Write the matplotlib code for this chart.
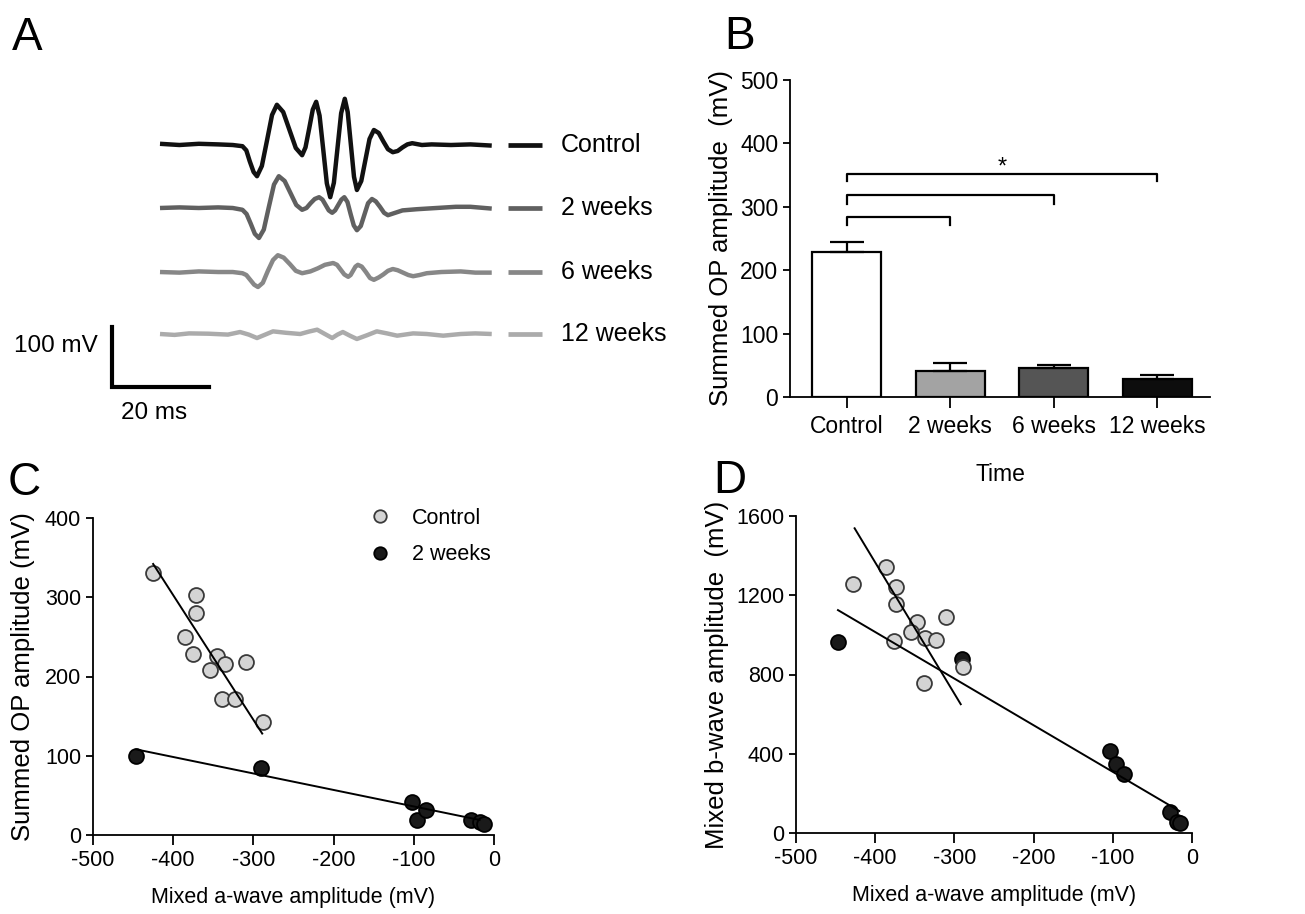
import matplotlib
matplotlib.use('Agg')
import matplotlib.pyplot as plt
from matplotlib.lines import Line2D
import numpy as np

plt.rcParams['font.family'] = ['Liberation Sans', 'DejaVu Sans']
plt.rcParams['axes.unicode_minus'] = False

W, H = 1305, 914

# --- Panel A : OP traces (time in ms, amplitude in mV) ---
trace_names = ['Control', '2 weeks', '6 weeks', '12 weeks']
trace_colors = ['#111111', '#606060', '#878787', '#ababab']

ctrl_t = [0, 4, 8, 12, 15, 17, 17.8, 18.5, 19.3, 20, 21, 22.05, 23.1, 24.1, 25.4, 26.7, 28, 29.3,
          30, 30.75, 31.5, 32.2, 32.9, 33.65, 34.4, 35.1, 35.85, 36.6, 37.35, 38.1, 38.7, 39.35,
          40, 40.6, 41.5, 42.35, 43.2, 44.1, 45.1, 46.05, 47, 48, 49, 50, 51, 52, 54, 56, 60,
          64, 68.4]
ctrl_v = [2, 0, 2, 1, 0, -2, -9, -27, -45, -52, -35, 7, 50, 67, 55, 25, -5, -17,
          -4, 27, 59, 72, 49, -7, -64, -87, -63, -5, 53, 77, 55, 1,
          -53, -75, -60, -25, 10, 25, 20, 6, -7, -12, -10, -4, 1, 3, 0, 1, 0,
          1, -1]

wk2_t = [0, 4, 8, 12, 15, 17, 17.85, 18.7, 19.55, 20.4, 21.4, 22.45, 23.5, 24.5, 25.7, 26.9, 28.1,
         29.3, 30.2, 31.05, 31.9, 32.8, 33.5, 34.15, 34.8, 35.5, 36.1, 36.75, 37.4, 38, 38.65, 39.3,
         39.95, 40.6, 41.4, 42.15, 42.9, 43.7, 44.5, 45.35, 46.2, 47, 48.5, 50, 53, 57, 61, 64, 68.4]
wk2_v = [0, 1, 0, 1, 0, -3, -10, -26, -43, -50, -36, 2, 39, 53, 45, 25, 5,
         -3, 0, 8, 15, 18, 14, 5, -4, -8, -4, 5, 14, 18, 10, -10,
         -29, -37, -30, -11, 8, 15, 11, 2, -8, -12, -8, -4, -2, 0, 2, 2, -1]

wk6_t = [0, 4, 8, 12, 15, 17, 17.8, 18.6, 19.4, 20.2, 21.2, 22.25, 23.3, 24.3, 25.5, 26.8, 28,
         29.3, 31, 32.5, 34, 35.7, 36.5, 37.25, 38, 38.8, 39.3, 39.8, 40.3, 40.8, 41.6, 42.45, 43.3,
         44.1, 45.1, 46.05, 47, 48, 49, 50.1, 51.2, 52.2, 53.5, 55, 58, 62, 65, 68.4]
wk6_v = [0, -1, 1, 0, 0, -2, -5, -13, -21, -25, -18, 2, 20, 28, 24, 13, 2,
         -2, 1, 6, 12, 15, 12, 4, -4, -8, -5, 2, 9, 12, 9, 0, -10,
         -13, -9, -4, 2, 5, 3, -1, -5, -7, -5, -2, 0, 1, -1, -1]

wk12_t = [0, 3, 6, 10, 14, 16.5, 18.3, 20, 21.7, 23.3, 26, 28.9, 30.7, 32.4, 34, 35.5, 36.6, 37.7,
          39.2, 40.6, 42.7, 44.7, 46.8, 48.9, 52.2, 55, 58.4, 62, 65, 68.4]
wk12_v = [0, -1.5, 1, 0.5, -1, 3.3, -1, -6.7, -1, 4.4, 2, 0, 4, 7.2, 0, -6.7, -1, 3.3,
          -3, -8.3, -2, 4.4, 1, -2.8, 1, 0, -2.8, 0, 1, 0]

# --- Panel B : summed OP amplitude ---
groups = ['Control', '2 weeks', '6 weeks', '12 weeks']
op_mean = [229, 41, 45, 29]
op_err = [16, 12, 6, 6]
bar_colors = ['white', '#a3a3a3', '#555555', '#0d0d0d']

# --- Panel C / D : scatter vs mixed a-wave ---
ctrl_a = [-425, -372, -372, -385, -375, -346, -354, -336, -309, -339, -323, -288]
ctrl_op = [330, 303, 280, 250, 228, 226, 208, 216, 218, 172, 172, 142]
wk2_a = [-447, -290, -102, -96, -85, -29, -18, -13]
wk2_op = [100, 85, 42, 19, 32, 19, 17, 14]
ctrl_fit_c_x = [-425, -289]
ctrl_fit_c_y = [342, 128]
wk2_fit_c_x = [-446, -18]
wk2_fit_c_y = [108, 19]

ctrl_a_d = [-428, -386, -374, -374, -347, -355, -337, -376, -323, -311, -339, -289]
ctrl_b = [1255, 1341, 1243, 1155, 1063, 1012, 985, 970, 973, 1088, 755, 839]
wk2_a_d = [-447, -291, -103, -96, -86, -28, -19, -15]
wk2_b = [965, 876, 414, 347, 300, 106, 56, 51]
ctrl_fit_d_x = [-426, -292]
ctrl_fit_d_y = [1538, 650]
wk2_fit_d_x = [-447, -16]
wk2_fit_d_y = [1125, 111]

fig = plt.figure(figsize=(W / 100, H / 100), dpi=100)


def px_axes(left, top, right, bottom):
    return fig.add_axes([left / W, 1 - bottom / H, (right - left) / W, (bottom - top) / H])


# Panel A
axA = px_axes(0, 60, 700, 430)
axA.set_xlim((0 - 160) / 4.85, (700 - 160) / 4.85)
axA.set_ylim(0, (430 - 60) / 0.6)
axA.axis('off')
offsets = [475, 370, 263.3, 160]
traces = [(ctrl_t, ctrl_v), (wk2_t, wk2_v), (wk6_t, wk6_v), (wk12_t, wk12_v)]
for (t, v), off, col, name in zip(traces, offsets, trace_colors, trace_names):
    axA.plot(t, np.array(v) + off, color=col, lw=3.2, solid_joinstyle='round', solid_capstyle='butt')
    axA.plot([71.8, 78.8], [off, off], color=col, lw=3.4, solid_capstyle='butt')
    axA.text(82.7, off, name, fontsize=18, va='center', ha='left')
# scale bar
sx, sy = -9.9, 71.7
axA.plot([sx, sx, sx + 20], [sy + 100, sy, sy], color='black', lw=3.0, solid_joinstyle='miter')
axA.text(-12.8, 140, '100 mV', fontsize=17.5, ha='right', va='center')
axA.text(-1.2, 28.3, '20 ms', fontsize=17.5, ha='center', va='center')

# Panel B
axB = px_axes(790, 80, 1210, 397)
x = np.arange(len(groups))
axB.bar(x, op_mean, width=0.667, color=bar_colors, edgecolor='black', linewidth=1.6,
        yerr=[np.zeros(len(groups)), op_err], capsize=12,
        error_kw=dict(elinewidth=1.6, capthick=1.6, ecolor='black'))
axB.set_xlim(-0.547, 3.507)
axB.set_ylim(0, 500)
axB.set_yticks([0, 100, 200, 300, 400, 500])
axB.set_xticks(x)
axB.set_xticklabels(groups, fontsize=16.5)
axB.tick_params(axis='y', labelsize=16.5, length=5, width=1.3)
axB.tick_params(axis='x', length=8, width=1.3, pad=5)
axB.set_ylabel('Summed OP amplitude  (mV)', fontsize=18.5, labelpad=5)
axB.set_xlabel('Time', fontsize=16.5, labelpad=18)
for s in ['top', 'right']:
    axB.spines[s].set_visible(False)
for s in ['left', 'bottom']:
    axB.spines[s].set_linewidth(1.3)
brackets = [(1, 284, 272), (2, 318, 305), (3, 352, 340)]
for xr, top, low in brackets:
    axB.plot([0, 0, xr, xr], [low, top, top, low], color='black', lw=1.6, clip_on=False)
axB.text(1.5, 362, '*', fontsize=17, ha='center', va='center')


def style_scatter(ax):
    for s in ['top', 'right']:
        ax.spines[s].set_visible(False)
    for s in ['left', 'bottom']:
        ax.spines[s].set_linewidth(1.3)
    ax.tick_params(labelsize=15.5, width=1.3)
    ax.tick_params(axis='x', length=7)
    ax.tick_params(axis='y', length=5)
    ax.set_xlim(-500, 0)
    ax.set_xticks([-500, -400, -300, -200, -100, 0])


light = dict(s=115, facecolor='#d4d4d4', edgecolor='#3a3a3a', linewidths=1.3, zorder=3)
dark = dict(s=115, facecolor='#1a1a1a', edgecolor='#000000', linewidths=1.3, zorder=3)

# Panel C
axC = px_axes(93, 518, 494, 835)
axC.scatter(wk2_a, wk2_op, **dark)
axC.scatter(ctrl_a, ctrl_op, **light)
axC.plot(ctrl_fit_c_x, ctrl_fit_c_y, color='black', lw=1.4, zorder=4)
axC.plot(wk2_fit_c_x, wk2_fit_c_y, color='black', lw=1.4, zorder=4)
style_scatter(axC)
axC.set_ylim(0, 400)
axC.set_yticks([0, 100, 200, 300, 400])
axC.set_xlabel('Mixed a-wave amplitude (mV)', fontsize=15.5, labelpad=12)
axC.set_ylabel('Summed OP amplitude (mV)', fontsize=18.5, labelpad=7)
handles = [Line2D([], [], ls='none', marker='o', markersize=9, markerfacecolor='#d4d4d4',
                  markeredgecolor='#3a3a3a', markeredgewidth=1.3),
           Line2D([], [], ls='none', marker='o', markersize=9, markerfacecolor='#1a1a1a',
                  markeredgecolor='black', markeredgewidth=1.3)]
axC.legend(handles, ['Control', '2 weeks'], loc='upper left', bbox_to_anchor=(369 / W, 1 - 507.5 / H),
           bbox_transform=fig.transFigure, frameon=False, fontsize=15.5, handlelength=1.0,
           handletextpad=1.0, labelspacing=0.73, borderpad=0, borderaxespad=0)

# Panel D
axD = px_axes(796, 516, 1192, 833)
axD.scatter(wk2_a_d, wk2_b, **dark)
axD.scatter(ctrl_a_d, ctrl_b, **light)
axD.plot(ctrl_fit_d_x, ctrl_fit_d_y, color='black', lw=1.4, zorder=4)
axD.plot(wk2_fit_d_x, wk2_fit_d_y, color='black', lw=1.4, zorder=4)
style_scatter(axD)
axD.set_ylim(0, 1600)
axD.set_yticks([0, 400, 800, 1200, 1600])
axD.set_xlabel('Mixed a-wave amplitude (mV)', fontsize=15.5, labelpad=12)
axD.set_ylabel('Mixed b-wave amplitude  (mV)', fontsize=18.5, labelpad=5)

# panel letters
for letter, lx, ly in [('A', 12, 50), ('B', 724, 49), ('C', 8, 495), ('D', 713, 493)]:
    fig.text(lx / W, 1 - ly / H, letter, fontsize=33, ha='left', va='baseline')

fig.savefig('out.png', dpi=100)
